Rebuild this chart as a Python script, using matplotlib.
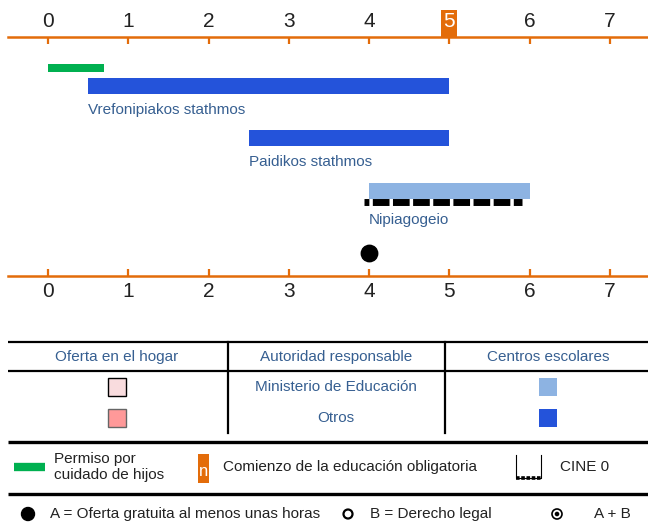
import matplotlib
matplotlib.use("Agg")
import matplotlib.pyplot as plt
from matplotlib.patches import Rectangle, Circle

plt.rcParams['font.family'] = ['Liberation Sans', 'DejaVu Sans']

ORANGE = '#E36C0A'
DARK_BLUE = '#2453DA'
LIGHT_BLUE = '#8DB3E2'
GREEN = '#00B050'
LABEL_BLUE = '#365F91'
TXT = '#222222'

# ages on the axis
ages = [0, 1, 2, 3, 4, 5, 6, 7]
compulsory_age = 5

# childcare leave
leave_start = 0
leave_end = 0.7

# programmes (centres)
programmes = ['Vrefonipiakos stathmos', 'Paidikos stathmos', 'Nipiagogeio']
prog_start = [0.5, 2.5, 4]
prog_end = [5, 5, 6]
prog_color = [DARK_BLUE, DARK_BLUE, LIGHT_BLUE]

# CINE 0 range and free offer (A)
cine_start = 3.93
cine_end = 5.9
free_offer_age = 4

# table / legend texts
table_header = ['Oferta en el hogar', 'Autoridad responsable', 'Centros escolares']
authorities = ['Ministerio de Educación', 'Otros']
home_colors = ['#F9DCDE', '#FF9999']
home_edges = ['black', '#666666']
centre_colors = [LIGHT_BLUE, DARK_BLUE]

W, H = 648, 528
FS = 11
fig = plt.figure(figsize=(W / 100, H / 100), dpi=100)

# ---- lower part: table and legend, pixel coordinates ----
tab = fig.add_axes([0, 0, 1, 1])
tab.set_xlim(0, W)
tab.set_ylim(H, 0)
tab.axis('off')

for y, lw in [(342, 1.6), (371, 1.6), (442, 2.4), (494, 2.4)]:
    tab.plot([8, 648], [y, y], color='black', lw=lw, solid_capstyle='butt')
for x in [228, 445]:
    tab.plot([x, x], [342, 433], color='black', lw=1.6)

col_x = [117, 336, 548]
for cx, t in zip(col_x, table_header):
    tab.text(cx, 357, t, ha='center', va='center', fontsize=FS, color=LABEL_BLUE)

row_y = [387, 418]
for ry, name, hc, he, cc in zip(row_y, authorities, home_colors, home_edges, centre_colors):
    tab.add_patch(Rectangle((col_x[0] - 9, ry - 9), 18, 18, facecolor=hc, edgecolor=he, lw=1))
    tab.text(col_x[1], ry, name, ha='center', va='center', fontsize=FS, color=LABEL_BLUE)
    tab.add_patch(Rectangle((col_x[2] - 9, ry - 9), 18, 18, facecolor=cc, edgecolor='none'))

# legend row 1
tab.plot([14, 45], [467, 467], color=GREEN, lw=6, solid_capstyle='butt')
tab.text(54, 467, 'Permiso por\ncuidado de hijos', ha='left', va='center',
         fontsize=FS, color=TXT, linespacing=1.25)
tab.add_patch(Rectangle((198, 454), 11, 29, facecolor=ORANGE, edgecolor='none'))
tab.text(203.5, 471, 'n', ha='center', va='center', fontsize=12, color='white')
tab.text(223, 467, 'Comienzo de la educación obligatoria', ha='left', va='center',
         fontsize=FS, color=TXT)
tab.plot([516, 516, 541, 541], [455, 478, 478, 455], color='black', lw=0.8)
tab.plot([516, 541], [478, 478], color='black', lw=2.6, linestyle=(0, (1.0, 0.45)))
tab.text(560, 467, 'CINE 0', ha='left', va='center', fontsize=FS, color=TXT)

# legend row 2
tab.add_patch(Circle((28, 514), 6.5, facecolor='black', edgecolor='black'))
tab.text(50, 514, 'A = Oferta gratuita al menos unas horas', ha='left', va='center',
         fontsize=FS, color=TXT)
tab.add_patch(Circle((348, 514), 4.5, facecolor='white', edgecolor='black', lw=1.6))
tab.text(370, 514, 'B = Derecho legal', ha='left', va='center', fontsize=FS, color=TXT)
tab.add_patch(Circle((557, 514), 5, facecolor='white', edgecolor='black', lw=1.2))
tab.add_patch(Circle((557, 514), 2.3, facecolor='black', edgecolor='none'))
tab.text(594, 514, 'A + B', ha='left', va='center', fontsize=FS, color=TXT)

# ---- timeline axes ----
px_per_year = (610 - 48) / 7
ax = fig.add_axes([8 / W, 1 - 300 / H, 640 / W, 300 / H])
ax.patch.set_alpha(0)
ax.set_xlim((8 - 48) / px_per_year, (648 - 48) / px_per_year)
ax.set_ylim(300, 0)

ax.spines['left'].set_visible(False)
ax.spines['right'].set_visible(False)
for side, ypos in [('top', 37), ('bottom', 276)]:
    ax.spines[side].set_position(('data', ypos))
    ax.spines[side].set_color(ORANGE)
    ax.spines[side].set_linewidth(1.8)
ax.set_yticks([])
ax.set_xticks(ages)
ax.tick_params(axis='x', direction='in', length=5, width=1.6, color=ORANGE,
               top=True, bottom=True, labeltop=True, labelbottom=True,
               labelsize=15, labelcolor=TXT, pad=4)

# orange box behind the compulsory-age label on the top axis
box_w = 16 / px_per_year
ax.add_patch(Rectangle((compulsory_age - box_w / 2, 10), box_w, 27,
                       facecolor=ORANGE, edgecolor='none', clip_on=False, zorder=1))
ax.xaxis.get_major_ticks()[ages.index(compulsory_age)].label2.set_color('white')

# childcare leave
ax.barh(68, leave_end - leave_start, left=leave_start, height=8, color=GREEN)

bar_y = [86, 138, 191]
label_y = [110, 162, 220]
for name, s, e, c, by, ly in zip(programmes, prog_start, prog_end, prog_color, bar_y, label_y):
    ax.barh(by, e - s, left=s, height=16, color=c)
    ax.text(s, ly, name, ha='left', va='center', fontsize=FS, color=LABEL_BLUE)

ax.hlines(201.5, cine_start, cine_end, color='black', lw=5,
          linestyles=[(-1.2, (2.4, 0.5))])
ax.scatter([free_offer_age], [253], s=140, color='black', zorder=3)

fig.savefig('out.png', dpi=100)
